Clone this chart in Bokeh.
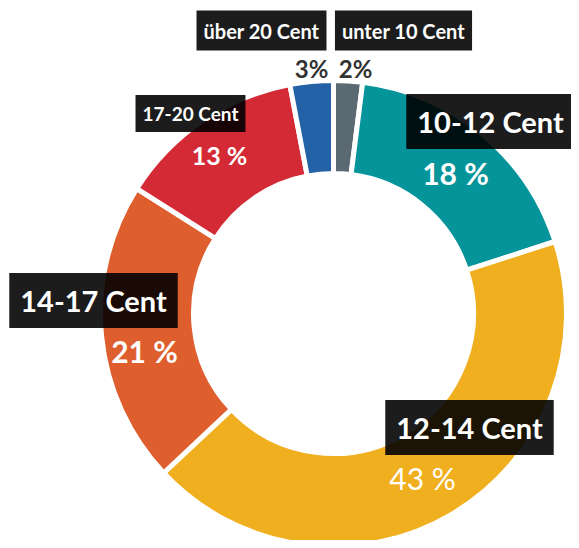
import numpy as np
from bokeh.plotting import figure
from bokeh.models import ColumnDataSource, Range1d
from bokeh.core.properties import value
from bokeh.embed import file_html
from bokeh.resources import INLINE

# ---- data (clockwise from top) ----
categories = ["unter 10 Cent", "10-12 Cent", "12-14 Cent", "14-17 Cent", "17-20 Cent", "über 20 Cent"]
shares = [2, 18, 43, 21, 13, 3]
pct_labels = ["2%", "18 %", "43 %", "21 %", "13 %", "3%"]
colors = ["#5b6a72", "#05949a", "#f0af1e", "#de5e2e", "#d42a35", "#2462a8"]

# ---- layout / style (screen pixel positions, y down) ----
cx, cy = 333, 313
r_outer, r_inner = 233, 140
cat_pos = [(403, 30), (490, 121), (469, 427), (93, 300), (190, 113), (261, 30)]
cat_size = [20, 29, 29, 29, 19, 20]
cat_pad = [(7, 8), (11, 10), (11, 10), (11, 10), (7, 7), (7, 8)]
pct_pos = [(355, 68), (455, 172), (422, 477), (144, 350), (219, 154), (311, 68)]
pct_size = [24, 30, 30, 30, 25, 24]
pct_color = ["#333333", "white", "white", "white", "white", "#333333"]
pct_style = ["bold", "bold", "normal", "bold", "bold", "bold"]

W, H = 571, 540
p = figure(width=W, height=H, output_backend="svg", toolbar_location=None,
           x_range=Range1d(0, W), y_range=Range1d(-H, 0),
           min_border=0, border_fill_color="white", outline_line_color=None)
p.axis.visible = False
p.grid.visible = False

vals = np.array(shares, dtype=float)
frac = vals / vals.sum()
ends = np.cumsum(frac) * 2 * np.pi
starts = ends - frac * 2 * np.pi
# clockwise from 12 o'clock -> math angles
start_ang = np.pi / 2 - starts
end_ang = np.pi / 2 - ends

src = ColumnDataSource(dict(x=[cx] * len(shares), y=[-cy] * len(shares),
                            start=start_ang, end=end_ang, color=colors))
p.annular_wedge(x="x", y="y", inner_radius=r_inner, outer_radius=r_outer,
                start_angle="start", end_angle="end", direction="clock",
                fill_color="color", line_color="white", line_width=5, source=src)

font = value("Lato")
for i, cat in enumerate(categories):
    x, y = cat_pos[i]
    p.text(x=[x], y=[-y], text=[cat], text_font=font, text_font_style="bold",
           text_font_size=f"{cat_size[i]}px", text_color="white",
           text_align="center", text_baseline="middle",
           background_fill_color="black", background_fill_alpha=0.89,
           padding=cat_pad[i])

for i, lab in enumerate(pct_labels):
    x, y = pct_pos[i]
    p.text(x=[x], y=[-y], text=[lab], text_font=font, text_font_style=pct_style[i],
           text_font_size=f"{pct_size[i]}px", text_color=pct_color[i],
           text_align="center", text_baseline="middle")

open("out.html", "w").write(file_html(p, INLINE))
